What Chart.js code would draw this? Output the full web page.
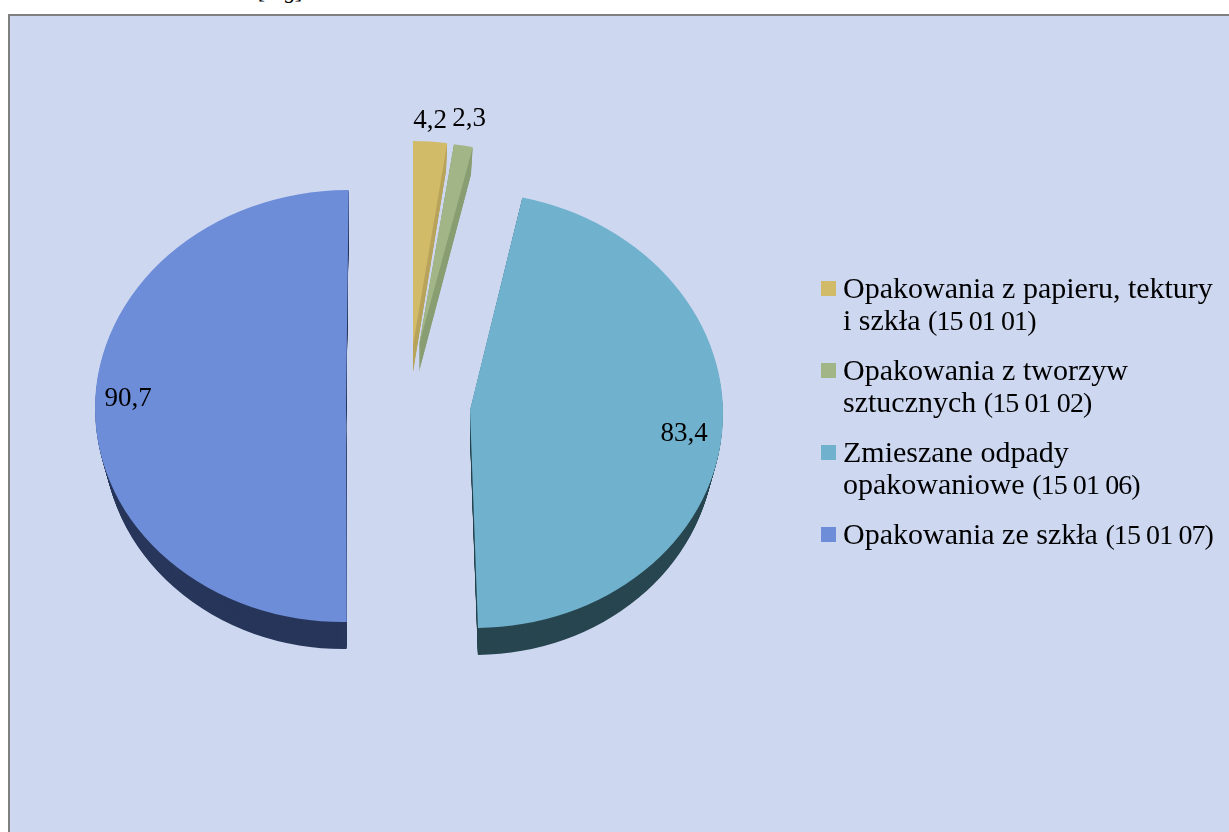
<!DOCTYPE html>
<html>
<head>
<meta charset="utf-8">
<script src="https://cdn.jsdelivr.net/npm/chart.js@4"></script>
<style>
  html, body { margin: 0; height: 100%; background: #fff; overflow: hidden; }
  #caption { position: absolute; left: 258px; top: -22px; font: italic 22px/26px "Liberation Serif", serif; color: #000; }
  #frame { position: absolute; left: 8px; top: 14px; width: 1300px; height: 900px; box-sizing: border-box;
           border: 2px solid #7f7f7f; background: #cdd7f0; }
  canvas { position: absolute; left: 0; top: 0; }
  #legend { position: absolute; left: 821px; top: 272px; font: 30px/32px "Liberation Serif", serif; color: #000; }
  .item { position: relative; padding-left: 22px; margin-bottom: 18px; white-space: nowrap; }
  .box { position: absolute; left: 0; top: 9px; width: 15px; height: 15px; }
  .code { font-size: 28px; line-height: 0; letter-spacing: -0.9px; }
</style>
</head>
<body>
<div id="caption">[Mg]</div>
<div id="frame"></div>
<canvas id="chart" width="1229" height="832"></canvas>
<div id="legend"></div>
<script>
const categories = [
  ['Opakowania z papieru, tektury', 'i szkła (15 01 01)'],
  ['Opakowania z tworzyw', 'sztucznych (15 01 02)'],
  ['Zmieszane odpady', 'opakowaniowe (15 01 06)'],
  ['Opakowania ze szkła (15 01 07)']
];
const values = [4.2, 2.3, 83.4, 90.7];
const valueLabels = ['4,2', '2,3', '83,4', '90,7'];

const topColors = ['#d2bb68', '#a2b587', '#70b2ce', '#6d8dd8'];
const sideColors = ['#b9a45c', '#8a9e73', '#284650', '#27365a'];

// every slice is exploded and tilted on its own, like the 3D pie in the picture
const sliceLayout = [
  { cx: 413, cy: 345, rx: 235, ry: 204, skew: 0 },
  { cx: 419, cy: 345, rx: 240, ry: 203, skew: 0 },
  { cx: 470, cy: 410, rx: 253, ry: 218, skew: 0.0108 },
  { cx: 346, cy: 406, rx: 251, ry: 216, skew: -0.0066 }
];
const depth = 27;
const wallShrink = 0.032; // perspective, the wall gets narrower going down
const labelPositions = [[430, 121], [469, 119], [684, 434], [128, 399]];

const pie3d = {
  id: 'pie3d',
  beforeDatasetDraw(chart, args) {
    const ctx = chart.ctx;
    const arcs = args.meta.data;

    arcs.forEach((arc, i) => {
      const l = sliceLayout[i];
      const paint = (dy) => {
        const rx = l.rx * (1 - wallShrink * dy / depth);
        ctx.save();
        ctx.translate(l.cx, l.cy + dy);
        ctx.transform(rx / arc.outerRadius, 0, l.skew, l.ry / arc.outerRadius, 0, 0);
        ctx.translate(-arc.x, -arc.y);
        arc.draw(ctx);
        ctx.restore();
      };

      const fill = arc.options.backgroundColor;
      arc.options.backgroundColor = sideColors[i];
      for (let dy = depth; dy > 0; dy--) {
        paint(dy);
      }
      arc.options.backgroundColor = fill;
      paint(0);
    });

    return false; // slices already drawn above
  },
  afterDatasetsDraw(chart) {
    const ctx = chart.ctx;
    ctx.save();
    ctx.font = '27px "Liberation Serif", serif';
    ctx.fillStyle = '#000';
    ctx.textAlign = 'center';
    ctx.textBaseline = 'middle';
    valueLabels.forEach((text, i) => {
      ctx.fillText(text, labelPositions[i][0], labelPositions[i][1]);
    });
    ctx.restore();
  }
};

new Chart(document.getElementById('chart').getContext('2d'), {
  type: 'pie',
  data: {
    labels: categories.map(lines => lines.join(' ')),
    datasets: [{
      data: values,
      backgroundColor: topColors,
      borderWidth: 0
    }]
  },
  options: {
    responsive: false,
    animation: false,
    plugins: {
      legend: { display: false },
      tooltip: { enabled: false }
    }
  },
  plugins: [pie3d]
});

// html legend, the text wraps in two lines like in the picture
const legend = document.getElementById('legend');
categories.forEach((lines, i) => {
  const item = document.createElement('div');
  item.className = 'item';
  const box = document.createElement('span');
  box.className = 'box';
  box.style.background = topColors[i];
  item.appendChild(box);
  lines.forEach((line, n) => {
    if (n > 0) item.appendChild(document.createElement('br'));
    const open = line.indexOf('(');
    if (open < 0) {
      item.appendChild(document.createTextNode(line));
    } else {
      item.appendChild(document.createTextNode(line.slice(0, open)));
      const code = document.createElement('span');
      code.className = 'code';
      code.textContent = line.slice(open);
      item.appendChild(code);
    }
  });
  legend.appendChild(item);
});
</script>
</body>
</html>
